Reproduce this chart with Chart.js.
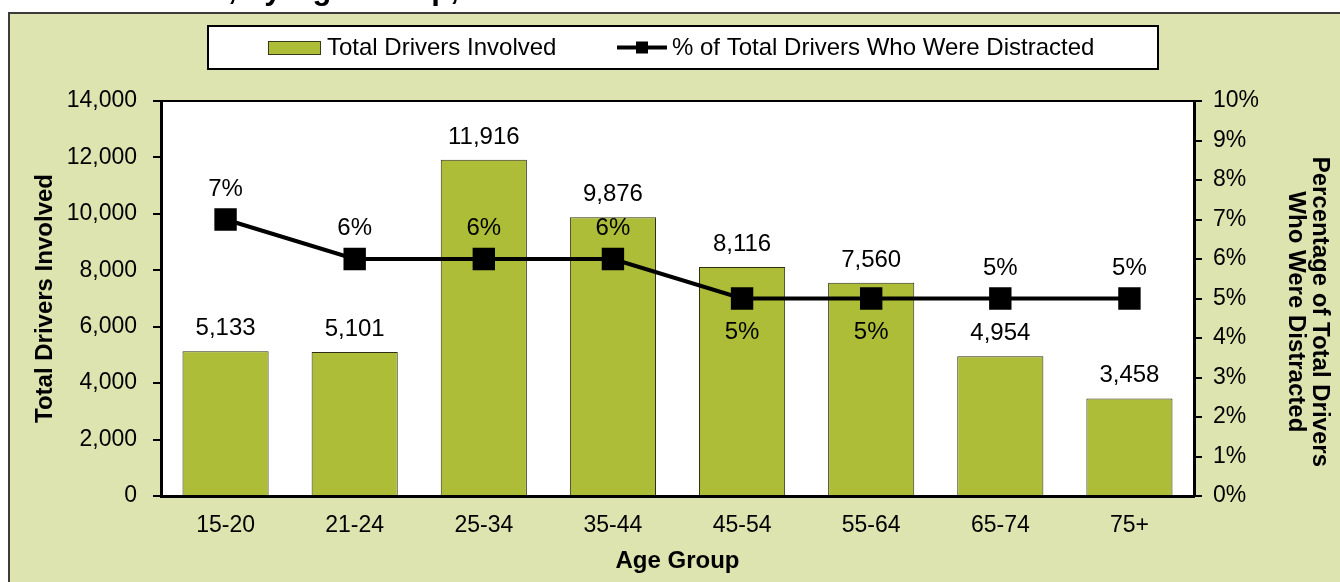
<!DOCTYPE html>
<html>
<head>
<meta charset="utf-8">
<script src="https://cdn.jsdelivr.net/npm/chart.js@4.4.1/dist/chart.umd.min.js"></script>
<style>
  html, body { margin: 0; padding: 0; background: #fff; }
  #wrap { position: relative; width: 1340px; height: 582px; }
</style>
</head>
<body>
<div id="wrap"><canvas id="drivers"></canvas></div>
<script>
const ageGroups = ['15-20', '21-24', '25-34', '35-44', '45-54', '55-64', '65-74', '75+'];
const totalDrivers = [5133, 5101, 11916, 9876, 8116, 7560, 4954, 3458];
const pctDistracted = [7, 6, 6, 6, 5, 5, 5, 5];
const pctLabels = ['7%', '6%', '6%', '6%', '5%', '5%', '5%', '5%'];

const FONT = "'Liberation Sans', Arial, sans-serif";
const BAR_GREEN = '#aebd38';
const FRAME_BG = '#dee4b0';
const NBSP4 = '\u00a0\u00a0\u00a0\u00a0'; // nudges the right title down a bit, like the original

Chart.defaults.font.family = FONT;
Chart.defaults.color = '#000';

// frame, white plot area, cut-off title
const framePlugin = {
    id: 'frame',
    beforeDraw(chart) {
        const c = chart.ctx;
        const a = chart.chartArea;
        c.save();
        c.font = 'bold 31px ' + FONT;
        c.fillStyle = '#000';
        c.textBaseline = 'alphabetic';
        c.fillText(', by Age Group,', 228, -1);

        c.fillStyle = FRAME_BG;
        c.fillRect(9, 13, 1400, 700);
        c.strokeStyle = '#3c3c3c';
        c.lineWidth = 2;
        c.strokeRect(9, 13, 1400, 700);

        c.fillStyle = '#fff';
        c.fillRect(a.left, a.top, a.right - a.left, a.bottom - a.top);
        c.strokeStyle = '#000';
        c.lineWidth = 2;
        c.strokeRect(a.left, a.top, a.right - a.left, a.bottom - a.top);
        c.restore();
    }
};

// value labels on bars and points
const labelPlugin = {
    id: 'valueLabels',
    afterDatasetsDraw(chart) {
        const c = chart.ctx;
        c.save();
        c.font = '24px ' + FONT;
        c.fillStyle = '#000';
        c.textAlign = 'center';
        c.textBaseline = 'alphabetic';

        chart.getDatasetMeta(1).data.forEach((el, i) => {
            c.fillText(totalDrivers[i].toLocaleString('en-US'), el.x, el.y - 16);
        });

        const below = [4, 5];
        chart.getDatasetMeta(0).data.forEach((el, i) => {
            const y = below.includes(i) ? el.y + 40 : el.y - 24;
            c.fillText(pctLabels[i], el.x, y);
        });
        c.restore();
    }
};

// boxed legend like the original
const legendPlugin = {
    id: 'boxLegend',
    afterDraw(chart) {
        const c = chart.ctx;
        c.save();
        c.fillStyle = '#fff';
        c.fillRect(208, 26, 950, 43);
        c.strokeStyle = '#000';
        c.lineWidth = 2;
        c.strokeRect(208, 26, 950, 43);

        c.fillStyle = BAR_GREEN;
        c.fillRect(268, 41, 52, 13);
        c.strokeStyle = '#3a3a1a';
        c.lineWidth = 1;
        c.strokeRect(268.5, 41.5, 52, 13);

        c.strokeStyle = '#000';
        c.lineWidth = 4;
        c.beginPath();
        c.moveTo(617, 47.5);
        c.lineTo(667, 47.5);
        c.stroke();
        c.fillStyle = '#000';
        c.fillRect(636, 41.5, 12, 12);

        c.font = '24px ' + FONT;
        c.textBaseline = 'middle';
        c.textAlign = 'left';
        c.fillText(chart.data.datasets[1].label, 327, 48);
        c.fillText(chart.data.datasets[0].label, 672, 48);
        c.restore();
    }
};

const ctx = document.getElementById('drivers').getContext('2d');
const chart = new Chart(ctx, {
    data: {
        labels: ageGroups,
        datasets: [
            {
                type: 'line',
                label: '% of Total Drivers Who Were Distracted',
                data: pctDistracted,
                yAxisID: 'pct',
                borderColor: '#000',
                backgroundColor: '#000',
                borderWidth: 4,
                pointStyle: 'rect',
                pointRadius: 13,
                pointHoverRadius: 13,
                order: 0
            },
            {
                type: 'bar',
                label: 'Total Drivers Involved',
                data: totalDrivers,
                yAxisID: 'drivers',
                backgroundColor: BAR_GREEN,
                borderColor: '#2e2e14',
                borderWidth: 1,
                categoryPercentage: 1,
                barPercentage: 0.667,
                order: 1
            }
        ]
    },
    options: {
        responsive: true,
        maintainAspectRatio: false,
        animation: false,
        layout: { padding: { left: 29, right: 4, top: 101, bottom: 0 } },
        plugins: {
            legend: { display: false },
            tooltip: { enabled: false }
        },
        scales: {
            x: {
                grid: { display: false, drawTicks: false },
                border: { display: true, color: '#000', width: 3 },
                ticks: { font: { size: 23 }, padding: 16, color: '#000' },
                title: {
                    display: true,
                    text: 'Age Group',
                    font: { size: 24, weight: 'bold', lineHeight: 1 },
                    padding: { top: 0, bottom: 9 },
                    color: '#000'
                },
                afterFit: s => { s.height = 86; }
            },
            drivers: {
                position: 'left',
                min: 0,
                max: 14000,
                grid: { drawOnChartArea: false, drawTicks: true, tickLength: 8, color: '#000', lineWidth: 2 },
                border: { display: true, color: '#000', width: 3 },
                ticks: {
                    stepSize: 2000,
                    font: { size: 23 },
                    padding: 16,
                    color: '#000',
                    callback: v => v.toLocaleString('en-US')
                },
                title: {
                    display: true,
                    text: 'Total Drivers Involved',
                    font: { size: 24, weight: 'bold', lineHeight: 1 },
                    padding: { top: 4, bottom: 0 },
                    color: '#000'
                },
                afterFit: s => { s.width = 132; }
            },
            pct: {
                position: 'right',
                min: 0,
                max: 10,
                grid: { drawOnChartArea: false, drawTicks: true, tickLength: 8, color: '#000', lineWidth: 2 },
                border: { display: true, color: '#000', width: 3 },
                ticks: {
                    stepSize: 1,
                    font: { size: 23 },
                    padding: 11,
                    color: '#000',
                    callback: v => v + '%'
                },
                title: {
                    display: true,
                    text: [NBSP4 + 'Percentage of Total Drivers', NBSP4 + 'Who Were Distracted'],
                    font: { size: 24, weight: 'bold', lineHeight: 1 },
                    padding: { top: 4, bottom: 0 },
                    color: '#000'
                },
                afterFit: s => { s.width = 142; }
            }
        }
    },
    plugins: [framePlugin, labelPlugin, legendPlugin]
});
</script>
</body>
</html>
